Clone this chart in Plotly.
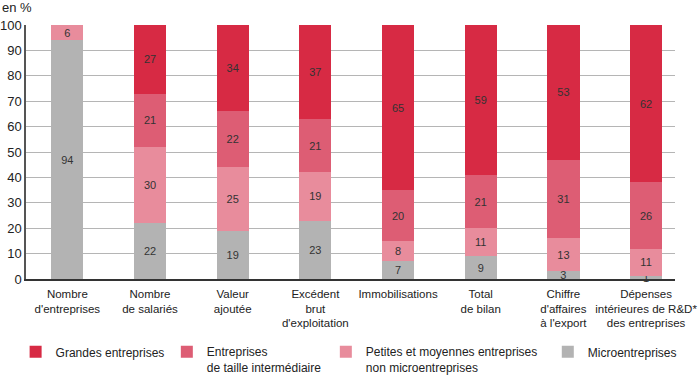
import plotly.graph_objects as go

categories = ["Nombre<br>d'entreprises", "Nombre<br>de salariés", "Valeur<br>ajoutée",
              "Excédent<br>brut<br>d'exploitation", "Immobilisations", "Total<br>de bilan",
              "Chiffre<br>d'affaires<br>à l'export", "Dépenses<br>intérieures de R&amp;D*<br>des entreprises"]
micro = [94, 22, 19, 23, 7, 9, 3, 1]
pme = [6, 30, 25, 19, 8, 11, 13, 11]
eti = [0, 21, 22, 21, 20, 21, 31, 26]
ge = [0, 27, 34, 37, 65, 59, 53, 62]

series = [
    ("Microentreprises", micro, "#b3b3b3", "legend4"),
    ("Petites et moyennes entreprises<br>non microentreprises", pme, "#e88c9c", "legend3"),
    ("Entreprises<br>de taille intermédiaire", eti, "#dd5d74", "legend2"),
    ("Grandes entreprises", ge, "#d72a44", "legend"),
]

FONT = "Liberation Sans, Arial, sans-serif"
fig = go.Figure()
xs = list(range(len(categories)))
for name, vals, color, lg in series:
    fig.add_trace(go.Bar(
        x=xs, y=vals, name=name, marker=dict(color=color, line=dict(width=0)),
        width=0.39, legend=lg, showlegend=True,
        text=[str(v) if v > 0 else "" for v in vals],
        textposition="inside", insidetextanchor="middle", textangle=0,
        textfont=dict(color="#333333", size=11, family=FONT),
        cliponaxis=False,
    ))

leg_common = dict(orientation="h", yanchor="top", y=-0.23, xanchor="left",
                  font=dict(size=12, family=FONT, color="#222222"),
                  bgcolor="rgba(0,0,0,0)", valign="top", itemclick=False, itemdoubleclick=False,
                  visible=True)
fig.update_layout(
    barmode="stack",
    width=700, height=378,
    showlegend=True,
    margin=dict(l=26, r=25, t=25, b=99, autoexpand=False),
    plot_bgcolor="white", paper_bgcolor="white",
    font=dict(family=FONT, color="#222222"),
    uniformtext=dict(minsize=11, mode="show"),
    legend=dict(x=-0.016, **leg_common),
    legend2=dict(x=0.217, **leg_common),
    legend3=dict(x=0.462, **leg_common),
    legend4=dict(x=0.804, **leg_common),
    xaxis=dict(range=[-0.5, 7.35], tickmode="array", tickvals=xs, ticktext=categories,
               showgrid=False, showline=True, linecolor="#333333", linewidth=1.5,
               ticks="", tickangle=0, ticklabelstandoff=3,
               tickfont=dict(size=11.5, family=FONT, color="#222222"),
               fixedrange=True),
    yaxis=dict(range=[0, 100], tickvals=list(range(0, 101, 10)), showgrid=True,
               gridcolor="#b5b5b5", gridwidth=1, showline=True, linecolor="#555555", linewidth=1.5,
               ticks="", tickfont=dict(size=13, family=FONT, color="#222222"), zeroline=False,
               fixedrange=True),
    annotations=[dict(text="en %", xref="paper", yref="paper", x=-0.04, y=1.07,
                      xanchor="left", yanchor="middle", showarrow=False,
                      font=dict(size=13, family=FONT, color="#222222"))],
)
fig.write_html("out.html", config={"displayModeBar": False},
               post_script="document.body.style.margin='0px';")
